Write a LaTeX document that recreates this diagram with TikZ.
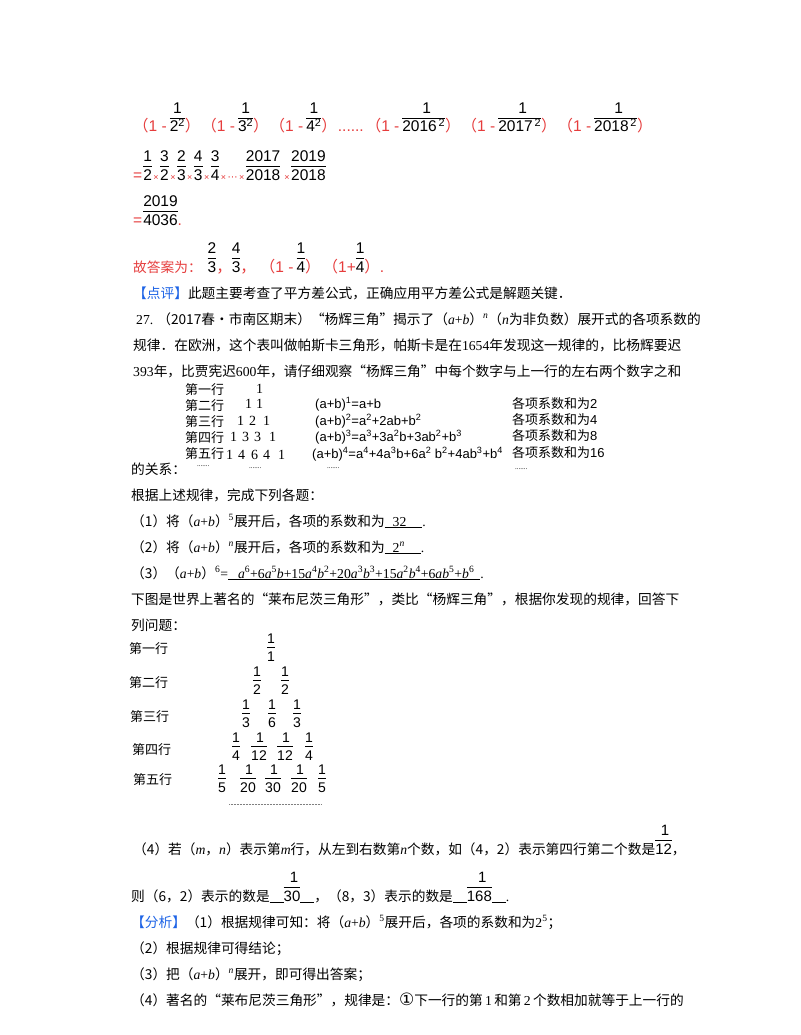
\documentclass[tikz,border=0pt]{standalone}
\usepackage{fontspec}
\setmainfont{Liberation Serif}
\setsansfont{Liberation Sans}
\newfontfamily\cjk{Noto Sans CJK SC}
\newfontfamily\sym{DejaVu Sans}
\definecolor{ansred}{RGB}{230,60,60}
\definecolor{tagblue}{RGB}{30,100,230}
\newcommand{\fb}[2]{\begin{tabular}[b]{@{}c@{}}#1\\[-1pt]\hline\rule{0pt}{13pt}#2\end{tabular}}
\newcommand{\sfb}[2]{{\sffamily\fb{#1}{#2}}}
\newcommand{\ia}{\textit{a}}
\newcommand{\ib}{\textit{b}}
\newcommand{\lp}{{\cjk （}}
\newcommand{\rp}{{\cjk ）}}
\newcommand{\tm}{\hspace{1.5pt}{\color{ansred}\fontsize{9}{10}\selectfont ×}\hspace{1.5pt}}
\tikzset{x=1pt,y=-1pt,
  txt/.style={anchor=base west,inner sep=0pt,font=\fontsize{13.7}{16}\selectfont},
  big/.style={anchor=base west,inner sep=0pt,font=\fontsize{15.5}{18}\selectfont},
  tab/.style={anchor=base west,inner sep=0pt,font=\fontsize{13}{16}\selectfont\sffamily},
  lf/.style={anchor=center,inner sep=0pt,font=\fontsize{14}{16}\selectfont}}
\setlength{\arrayrulewidth}{0.8pt}
\begin{document}
\begin{tikzpicture}
\useasboundingbox[fill=white] (0,0) rectangle (800,1035);
% row 1
\node[big] (r1) at (133,132) {\sffamily\color{ansred}\lp 1 -\hspace{3pt}\color{black}\fb{1}{2\textsuperscript{2}}\color{ansred}\rp\hspace{1pt}\lp 1 -\hspace{3pt}\color{black}\fb{1}{3\textsuperscript{2}}\color{ansred}\rp\hspace{1pt}\lp 1 -\hspace{3pt}\color{black}\fb{1}{4\textsuperscript{2}}\color{ansred}\rp\hspace{1pt}......\hspace{2pt}\lp 1 -\hspace{3pt}\color{black}\fb{\hspace{6pt}1\hspace{6pt}}{2016\textsuperscript{\,2}}\color{ansred}\rp\hspace{1pt}\lp 1 -\hspace{3pt}\color{black}\fb{\hspace{6pt}1\hspace{6pt}}{2017\textsuperscript{\,2}}\color{ansred}\rp\hspace{1pt}\lp 1 -\hspace{3pt}\color{black}\fb{\hspace{6pt}1\hspace{6pt}}{2018\textsuperscript{\,2}}\color{ansred}\rp};
% row 2
\node[big] (r2) at (133,180) {\sffamily\color{ansred}=\hspace{1pt}\color{black}\fb{1}{2}\tm\fb{3}{2}\tm\fb{2}{3}\tm\fb{4}{3}\tm\fb{3}{4}\tm{\color{ansred}\sym\fontsize{10}{10}\selectfont ⋯}\tm\fb{2017}{2018}\,\tm\fb{2019}{2018}};
% row 3
\node[big] (r3) at (133,225) {\sffamily\color{ansred}=\hspace{1pt}\color{black}\fb{2019}{4036}\color{ansred}.};
% answer
\node[big] (ans) at (133,272) {\color{ansred}{\cjk\fontsize{13.7}{16}\selectfont 故答案为：}\hspace{6pt}\color{black}\sffamily\fb{2}{3}\color{ansred}{\cjk ，}\color{black}\fb{4}{3}\color{ansred}{\cjk ，}\hspace{4pt}\lp 1 -\hspace{3pt}\color{black}\fb{1}{4}\color{ansred}\rp\hspace{2pt}\lp 1+\color{black}\fb{1}{4}\color{ansred}\rp.};
\node[txt] (dp) at (133,298) {\color{tagblue}{\cjk 【点评】}\color{black}{\cjk 此题主要考查了平方差公式，正确应用平方差公式是解题关键．}};
% problem 27
\node[txt] (p1) at (136,324) {27.\hspace{4pt}{\cjk （2017春•市南区期末）“杨辉三角”揭示了（}\ia+\ib{\cjk ）}\textsuperscript{\textit{n}}{\cjk （}\textit{n}{\cjk 为非负数）展开式的各项系数的}};
\node[txt] (p2) at (133,350) {\cjk 规律．在欧洲，这个表叫做帕斯卡三角形，帕斯卡是在{\rmfamily 1654}年发现这一规律的，比杨辉要迟};
\node[txt] (p3) at (133,376) {\cjk {\rmfamily 393}年，比贾宪迟{\rmfamily 600}年，请仔细观察“杨辉三角”中每个数字与上一行的左右两个数字之和};
% Pascal table
\node[tab] (t1) at (185,394) {\cjk 第一行};
\node[tab] (t2) at (185,410) {\cjk 第二行};
\node[tab] (t3) at (185,426) {\cjk 第三行};
\node[tab] (t4) at (185,442) {\cjk 第四行};
\node[tab] (t5) at (185,458) {\cjk 第五行};
\node[tab,font=\fontsize{14}{16}\selectfont\rmfamily] (n1) at (256,393) {1};
\node[tab,font=\fontsize{14}{16}\selectfont\rmfamily] (n2) at (245,408) {1\hspace{4pt}1};
\node[tab,font=\fontsize{14}{16}\selectfont\rmfamily] (n3) at (237,425) {1\hspace{5pt}2\hspace{7pt}1};
\node[tab,font=\fontsize{14}{16}\selectfont\rmfamily] (n4) at (230,441) {1\hspace{5pt}3\hspace{5pt}3\hspace{8pt}1};
\node[tab,font=\fontsize{14}{16}\selectfont\rmfamily] (n5) at (226,459) {1\hspace{5pt}4\hspace{6pt}6\hspace{5pt}4\hspace{8pt}1};
\node[tab] (f1) at (315,408) {(a+b)\textsuperscript{1}=a+b};
\node[tab] (f2) at (315,425) {(a+b)\textsuperscript{2}=a\textsuperscript{2}+2ab+b\textsuperscript{2}};
\node[tab] (f3) at (315,441) {(a+b)\textsuperscript{3}=a\textsuperscript{3}+3a\textsuperscript{2}b+3ab\textsuperscript{2}+b\textsuperscript{3}};
\node[tab] (f4) at (312,458) {(a+b)\textsuperscript{4}=a\textsuperscript{4}+4a\textsuperscript{3}b+6a\textsuperscript{2} b\textsuperscript{2}+4ab\textsuperscript{3}+b\textsuperscript{4}};
\node[tab] (s1) at (512,408) {\cjk 各项系数和为{\sffamily 2}};
\node[tab] (s2) at (512,424) {\cjk 各项系数和为{\sffamily 4}};
\node[tab] (s3) at (512,440) {\cjk 各项系数和为{\sffamily 8}};
\node[tab] (s4) at (512,457) {\cjk 各项系数和为{\sffamily 16}};
\node[tab,font=\fontsize{7}{8}\selectfont] (d1) at (197,466) {.......};
\node[tab,font=\fontsize{7}{8}\selectfont] (d2) at (249,468) {.......};
\node[tab,font=\fontsize{7}{8}\selectfont] (d3) at (327,468) {.......};
\node[tab,font=\fontsize{7}{8}\selectfont] (d4) at (515,469) {.......};
\node[txt] (gx) at (131,474) {\cjk 的关系：};
\node[txt] (q0) at (131,500) {\cjk 根据上述规律，完成下列各题：};
\node[txt] (q1) at (131,526) {{\cjk （1）将（}\ia+\ib{\cjk ）}\textsuperscript{5}{\cjk 展开后，各项的系数和为}\underline{\hspace{8pt}32\hspace{16pt}}.};
\node[txt] (q2) at (131,552) {{\cjk （2）将（}\ia+\ib{\cjk ）}\textsuperscript{\textit{n}}{\cjk 展开后，各项的系数和为}\underline{\hspace{8pt}2\textsuperscript{\textit{n}}\hspace{16pt}}.};
\node[txt] (q3) at (131,578) {{\cjk （3）（}\ia+\ib{\cjk ）}\textsuperscript{6}=\underline{\hspace{10pt}\textit{a}\textsuperscript{6}+6\textit{a}\textsuperscript{5}\textit{b}+15\textit{a}\textsuperscript{4}\textit{b}\textsuperscript{2}+20\textit{a}\textsuperscript{3}\textit{b}\textsuperscript{3}+15\textit{a}\textsuperscript{2}\textit{b}\textsuperscript{4}+6\textit{ab}\textsuperscript{5}+\textit{b}\textsuperscript{6}\hspace{6pt}}.};
\node[txt] (q4) at (131,604) {\cjk 下图是世界上著名的“莱布尼茨三角形”，类比“杨辉三角”，根据你发现的规律，回答下};
\node[txt] (q5) at (131,630) {\cjk 列问题：};
% Leibniz triangle
\node[tab] (L1) at (129,653) {\cjk 第一行};
\node[tab] (L2) at (129,687) {\cjk 第二行};
\node[tab] (L3) at (130,721) {\cjk 第三行};
\node[tab] (L4) at (132,754) {\cjk 第四行};
\node[tab] (L5) at (133,784) {\cjk 第五行};
\node[lf] (a11) at (271,649) {\sfb{1}{1}};
\node[lf] (a21) at (257,682) {\sfb{1}{2}};
\node[lf] (a22) at (285,682) {\sfb{1}{2}};
\node[lf] (a31) at (246,715) {\sfb{1}{3}};
\node[lf] (a32) at (272,715) {\sfb{1}{6}};
\node[lf] (a33) at (297,715) {\sfb{1}{3}};
\node[lf] (a41) at (236,748) {\sfb{1}{4}};
\node[lf] (a42) at (259,748) {\sfb{\hspace{2pt}1\hspace{2pt}}{12}};
\node[lf] (a43) at (285,748) {\sfb{\hspace{2pt}1\hspace{2pt}}{12}};
\node[lf] (a44) at (309,748) {\sfb{1}{4}};
\node[lf] (a51) at (222,780) {\sfb{1}{5}};
\node[lf] (a52) at (248,780) {\sfb{\hspace{2pt}1\hspace{2pt}}{20}};
\node[lf] (a53) at (273,780) {\sfb{\hspace{2pt}1\hspace{2pt}}{30}};
\node[lf] (a54) at (299,780) {\sfb{\hspace{2pt}1\hspace{2pt}}{20}};
\node[lf] (a55) at (322,780) {\sfb{1}{5}};
\coordinate (dl) at (229,804);
\coordinate (dr) at (321,804);
\draw[densely dotted,gray,line width=0.5pt] (dl) -- (dr);
% part 4
\node[txt] (r4) at (133,854) {{\cjk （4）若（}\textit{m}{\cjk ，}\textit{n}{\cjk ）表示第}\textit{m}{\cjk 行，从左到右数第}\textit{n}{\cjk 个数，如（4，2）表示第四行第二个数是}{\fontsize{15}{18}\selectfont\sffamily\fb{\hspace{3pt}1\hspace{3pt}}{12}}{\cjk ，}};
\node[txt] (r5) at (131,901) {{\cjk 则（6，2）表示的数是}\underline{\hspace{14pt}}{\fontsize{15}{18}\selectfont\sffamily\fb{\hspace{4pt}1\hspace{4pt}}{30}}\underline{\hspace{14pt}}{\cjk ，（8，3）表示的数是}\underline{\hspace{14pt}}{\fontsize{15}{18}\selectfont\sffamily\fb{\hspace{6pt}1\hspace{6pt}}{168}}\underline{\hspace{14pt}}.};
\node[txt] (fx) at (131,927) {\color{tagblue}{\cjk 【分析】}\color{black}{\cjk （1）根据规律可知：将（}\ia+\ib{\cjk ）}\textsuperscript{5}{\cjk 展开后，各项的系数和为}2\textsuperscript{5}{\cjk ；}};
\node[txt] (fx2) at (131,953) {\cjk （2）根据规律可得结论；};
\node[txt] (fx3) at (131,979) {{\cjk （3）把（}\ia+\ib{\cjk ）}\textsuperscript{\textit{n}}{\cjk 展开，即可得出答案；}};
\node[txt] (fx4) at (131,1005) {{\cjk （4）著名的“莱布尼茨三角形”，规律是：}{\sym\fontsize{17}{18}\selectfont ①}{\cjk 下一行的第}\,1\,{\cjk 和第}\,2\,{\cjk 个数相加就等于上一行的}};
\end{tikzpicture}
\end{document}
